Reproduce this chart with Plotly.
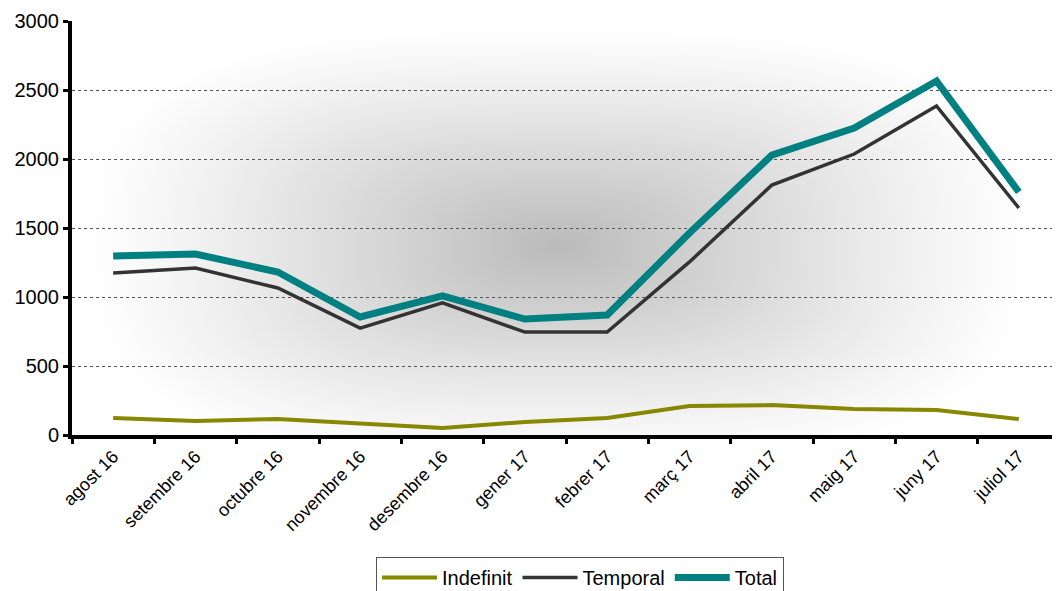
import base64, struct, zlib
import numpy as np
import plotly.graph_objects as go

months = ["agost 16", "setembre 16", "octubre 16", "novembre 16", "desembre 16", "gener 17",
          "febrer 17", "març 17", "abril 17", "maig 17", "juny 17", "juliol 17"]
indefinit = [123, 101, 116, 80, 51, 94, 123, 210, 217, 188, 181, 116]
temporal = [1174, 1210, 1065, 775, 957, 746, 746, 1254, 1811, 2036, 2384, 1645]
total = [1297, 1311, 1181, 855, 1008, 840, 869, 1464, 2028, 2224, 2565, 1761]


def gradient_png(w, h):
    yy, xx = np.mgrid[0:h, 0:w].astype(float)
    cx, cy = w * 0.49, h * 0.54
    rx, ry = w * 0.47, h * 0.52
    dx = np.abs((xx - cx) / rx)
    dy = np.abs((yy - cy) / ry)
    r = (dx ** 3 + dy ** 3) ** (1 / 3)
    r = np.clip(r, 0, 1)
    v = 255 - 68 * (1 - r) ** 1.1
    v = np.clip(v, 0, 255).astype(np.uint8)
    raw = b"".join(b"\x00" + bytes(np.repeat(row, 3)) for row in v)

    def chunk(tag, data):
        c = struct.pack(">I", len(data)) + tag + data
        return c + struct.pack(">I", zlib.crc32(tag + data) & 0xffffffff)

    png = b"\x89PNG\r\n\x1a\n"
    png += chunk(b"IHDR", struct.pack(">IIBBBBB", w, h, 8, 2, 0, 0, 0))
    png += chunk(b"IDAT", zlib.compress(raw, 9))
    png += chunk(b"IEND", b"")
    return "data:image/png;base64," + base64.b64encode(png).decode()


fig = go.Figure()
fig.add_trace(go.Scatter(x=months, y=indefinit, name="Indefinit", mode="lines",
                         line=dict(color="#878700", width=4)))
fig.add_trace(go.Scatter(x=months, y=temporal, name="Temporal", mode="lines",
                         line=dict(color="#333333", width=3.5)))
fig.add_trace(go.Scatter(x=months, y=total, name="Total", mode="lines",
                         line=dict(color="#008080", width=7)))

W, H = 1052, 583
fig.update_layout(
    width=W, height=H,
    margin=dict(l=64, r=0, t=13, b=156, autoexpand=False),
    paper_bgcolor="white",
    plot_bgcolor="rgba(0,0,0,0)",
    font=dict(family="Liberation Sans, Arial", color="black"),
    images=[dict(source=gradient_png(494, 207), xref="paper", yref="paper",
                 x=0, y=1, sizex=1, sizey=1, sizing="stretch",
                 xanchor="left", yanchor="top", layer="below")],
    legend=dict(orientation="h", x=(368 - 64) / 988, y=1 - 549 / H,
                xref="paper", yref="container",
                xanchor="left", yanchor="top",
                bordercolor="#555555", borderwidth=1, bgcolor="white",
                font=dict(size=20), itemwidth=55, tracegroupgap=0),
    xaxis=dict(type="category", range=[-0.5, 11.5], tickson="boundaries",
               ticks="outside", ticklen=5, tickwidth=3, tickcolor="black",
               showline=True, linewidth=4, linecolor="black", showgrid=False,
               tickangle=-45, tickfont=dict(size=18), automargin=False),
    yaxis=dict(range=[0, 3000], dtick=500, ticks="outside", ticklen=5, tickwidth=3,
               tickcolor="black", showline=True, linewidth=4, linecolor="black",
               showgrid=True, gridcolor="#555555", gridwidth=1, griddash="dot",
               zeroline=False, tickfont=dict(size=20), automargin=False),
)

fig.write_html("out.html")
